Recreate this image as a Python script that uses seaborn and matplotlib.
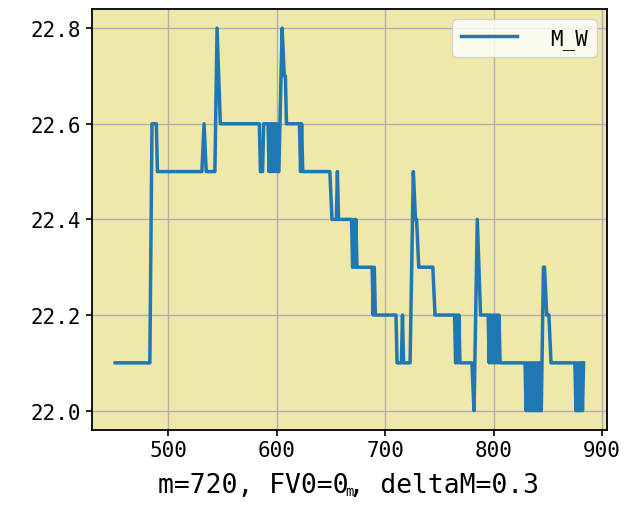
import matplotlib
matplotlib.use("Agg")
import matplotlib.pyplot as plt
import seaborn as sns
import pandas as pd

# vertices of the M_W line (m, value)
m_values = [451, 483, 485, 489, 490, 531, 533, 535, 543, 545, 548, 584, 585, 587, 588,
            592, 593, 594, 595, 596, 597, 598, 599, 600, 601, 602, 605, 607, 608, 609,
            621, 622, 623, 624, 649, 651, 655, 656, 657, 669, 670, 671, 672, 673, 674,
            688, 689, 690, 691, 710, 711, 715, 716, 717, 723, 726, 728, 729, 731, 744,
            746, 764, 765, 766, 767, 768, 769, 780, 782, 785, 788, 795, 796, 797, 798,
            799, 800, 801, 802, 803, 804, 805, 806, 829, 830, 831, 832, 833, 834, 835,
            836, 837, 838, 839, 840, 841, 842, 843, 844, 846, 847, 849, 851, 853, 875,
            876, 877, 878, 879, 880, 881, 882, 883]
mw_values = [22.1, 22.1, 22.6, 22.6, 22.5, 22.5, 22.6, 22.5, 22.5, 22.8, 22.6, 22.6, 22.5, 22.5, 22.6,
             22.6, 22.5, 22.6, 22.5, 22.6, 22.5, 22.6, 22.5, 22.6, 22.5, 22.5, 22.8, 22.7, 22.7, 22.6,
             22.6, 22.5, 22.6, 22.5, 22.5, 22.4, 22.4, 22.5, 22.4, 22.4, 22.3, 22.4, 22.3, 22.4, 22.3,
             22.3, 22.2, 22.3, 22.2, 22.2, 22.1, 22.1, 22.2, 22.1, 22.1, 22.5, 22.4, 22.4, 22.3, 22.3,
             22.2, 22.2, 22.1, 22.2, 22.1, 22.2, 22.1, 22.1, 22.0, 22.4, 22.2, 22.2, 22.1, 22.2, 22.1,
             22.2, 22.1, 22.2, 22.1, 22.2, 22.1, 22.2, 22.1, 22.1, 22.0, 22.1, 22.0, 22.1, 22.0, 22.1,
             22.0, 22.1, 22.0, 22.1, 22.0, 22.1, 22.0, 22.1, 22.0, 22.3, 22.3, 22.2, 22.2, 22.1, 22.1,
             22.0, 22.1, 22.0, 22.1, 22.0, 22.1, 22.0, 22.1]
series_label = "M_W"
x_label = "m"
caption = "m=720, FV0=0, deltaM=0.3"

plt.rcParams['font.family'] = ['DejaVu Sans Mono', 'DejaVu Sans']

df = pd.DataFrame({"m": m_values, "M_W": mw_values})

fig = plt.figure(figsize=(6.29, 5.10), dpi=100)
ax = fig.add_axes([0.1458, 0.1553, 0.8192, 0.8251])
ax.set_facecolor('palegoldenrod')

sns.lineplot(data=df, x="m", y="M_W", ax=ax, label=series_label, color='#1f77b4',
             linewidth=2.5, sort=False, estimator=None)

ax.grid(True, color='#b0b0b0', linewidth=1.0)
ax.set_axisbelow(True)
for s in ax.spines.values():
    s.set_linewidth(1.3)
    s.set_color('black')
ax.tick_params(labelsize=15, width=1.2, length=4)
ax.set_xticks([500, 600, 700, 800, 900])
ax.set_yticks([22.0, 22.2, 22.4, 22.6, 22.8])
ax.set_ylabel("")
ax.set_xlabel(x_label, fontsize=10, labelpad=17)

leg = ax.legend(loc='upper right', fontsize=15, handlelength=2.7, handletextpad=1.6)

fig.text(0.5544, 1 - 486 / 510, caption, ha='center', va='center', fontsize=19)

fig.savefig("out.png", dpi=100)
